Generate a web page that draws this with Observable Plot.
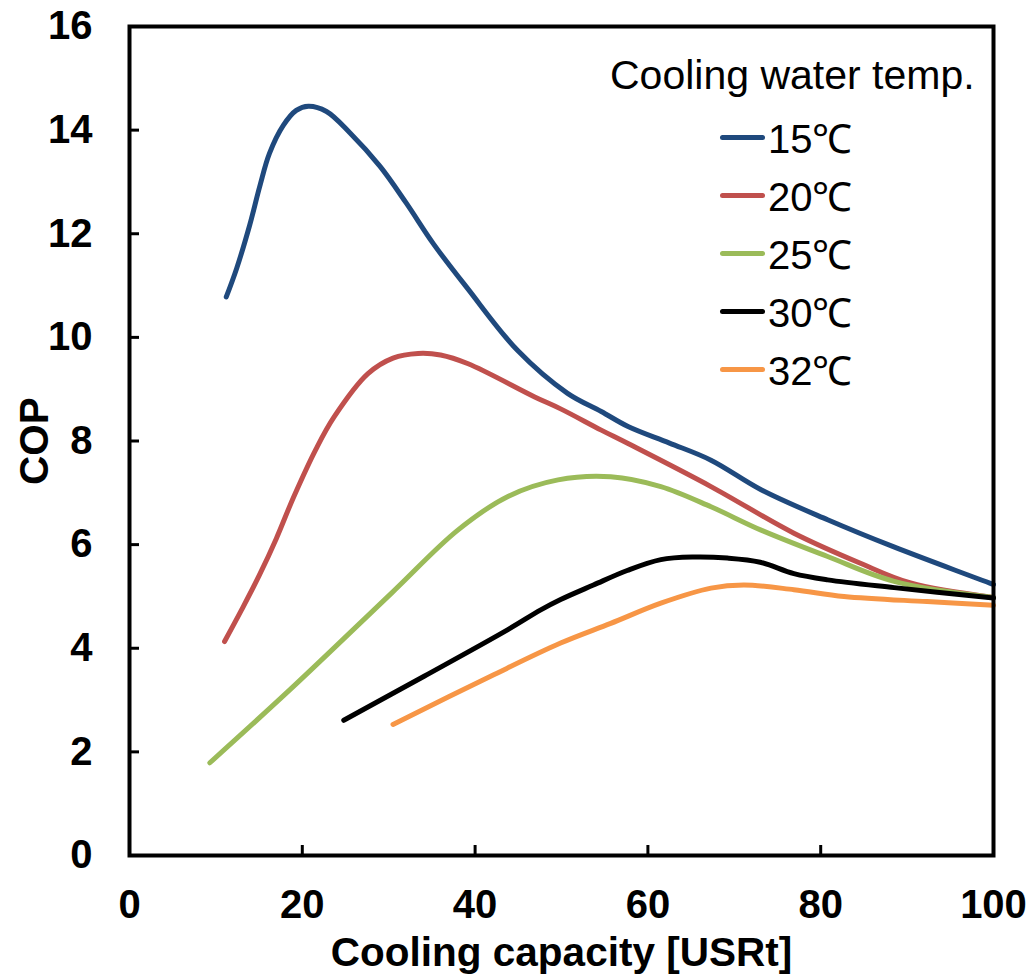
<!DOCTYPE html>
<html>
<head>
<meta charset="utf-8">
<script src="https://cdn.jsdelivr.net/npm/d3@7"></script>
<script src="https://cdn.jsdelivr.net/npm/@observablehq/plot@0.6"></script>
<style>
  html, body { margin: 0; padding: 0; background: #fff; }
  #wrap { position: relative; width: 1029px; height: 977px; }
  #legend { position: absolute; left: 0; top: 0; font-family: "Liberation Sans", Arial, sans-serif; color: #000; }
  #legend .title { position: absolute; left: 610px; top: 52px; font-size: 41px; white-space: nowrap; line-height: 46px; }
  #legend .item { position: absolute; left: 720px; height: 46px; display: flex; align-items: center; white-space: nowrap; font-size: 40px; }
  #legend .swatch { width: 45px; height: 5px; border-radius: 2.5px; margin-right: 3px; }
</style>
</head>
<body>
<div id="wrap"><div id="legend"></div></div>
<script>
// Series names and colours
const seriesNames = ["15℃", "20℃", "25℃", "30℃", "32℃"];
const seriesColors = ["#1F497D", "#C0504D", "#9BBB59", "#000000", "#F79646"];

// 15℃
const x15 = [11.2, 12.4, 13.9, 15.1, 16.2, 17.8, 19.3, 20.7, 22.8, 25.5, 29.0, 32.0, 35.2, 39.1, 44.9, 50.7, 54.6, 57.7, 62.5, 67.3, 73.1, 80.8, 88.4, 100];
const y15 = [10.78, 11.33, 12.16, 12.93, 13.55, 14.09, 14.38, 14.46, 14.36, 13.95, 13.30, 12.60, 11.80, 10.95, 9.75, 8.92, 8.57, 8.28, 7.96, 7.63, 7.06, 6.48, 5.96, 5.23];
// 20℃
const x20 = [11.0, 13.0, 15.0, 17.0, 19.0, 21.6, 23.7, 27.6, 30.5, 33.4, 36.0, 39.2, 46.9, 49.9, 54.6, 57.7, 67.3, 76.9, 84.6, 90.4, 100];
const y20 = [4.13, 4.75, 5.40, 6.12, 6.92, 7.85, 8.47, 9.30, 9.60, 9.69, 9.66, 9.49, 8.85, 8.62, 8.21, 7.95, 7.12, 6.22, 5.64, 5.26, 4.98];
// 25℃
const x25 = [9.3, 18.7, 30.3, 38.0, 43.8, 49.6, 55.7, 61.5, 67.3, 73.1, 80.8, 88.5, 100];
const y25 = [1.79, 3.22, 5.06, 6.28, 6.93, 7.25, 7.31, 7.12, 6.73, 6.28, 5.77, 5.29, 4.98];
// 30℃
const x30 = [24.8, 34.1, 43.8, 47.6, 49.9, 53.7, 57.6, 61.5, 65.3, 69.2, 73.0, 76.9, 80.8, 88.5, 100];
const y30 = [2.61, 3.46, 4.36, 4.74, 4.94, 5.22, 5.50, 5.71, 5.76, 5.74, 5.66, 5.44, 5.32, 5.17, 4.97];
// 32℃
const x32 = [30.5, 41.8, 49.9, 55.7, 61.5, 67.3, 71.1, 76.9, 82.7, 92.3, 100];
const y32 = [2.53, 3.46, 4.10, 4.48, 4.87, 5.16, 5.22, 5.13, 5.00, 4.90, 4.83];

// Axis ticks
const xTicks = [0, 20, 40, 60, 80, 100];
const yTicks = [0, 2, 4, 6, 8, 10, 12, 14, 16];

const xs = [x15, x20, x25, x30, x32];
const ys = [y15, y20, y25, y30, y32];
const table = [];
xs.forEach((xa, s) => xa.forEach((xv, i) => table.push({series: seriesNames[s], x: xv, y: ys[s][i]})));

const font = "'Liberation Sans', Arial, sans-serif";
const W = 1029, H = 977, mL = 129, mR = 36, mT = 26, mB = 122;
const xDomain = [0, 100], yDomain = [0, 16];
const tickLen = 10; // px, inward
// tick length expressed in data units of each scale
const xTickLen = (xDomain[1] - xDomain[0]) * tickLen / (W - mL - mR);
const yTickLen = (yDomain[1] - yDomain[0]) * tickLen / (H - mT - mB);

const chart = Plot.plot({
  width: W,
  height: H,
  marginLeft: mL,
  marginRight: mR,
  marginTop: mT,
  marginBottom: mB,
  style: { fontFamily: font, background: "#fff" },
  x: { domain: xDomain },
  y: { domain: yDomain },
  color: { domain: seriesNames, range: seriesColors },
  marks: [
    Plot.line(table, { x: "x", y: "y", z: "series", stroke: "series", strokeWidth: 5, curve: "catmull-rom", strokeLinecap: "round", strokeLinejoin: "round" }),
    // inward tick marks
    Plot.ruleX(xTicks, { x: d => d, y1: yDomain[0], y2: yDomain[0] + yTickLen, stroke: "#000", strokeWidth: 3 }),
    Plot.ruleY(yTicks, { y: d => d, x1: xDomain[0], x2: xDomain[0] + xTickLen, stroke: "#000", strokeWidth: 3 }),
    Plot.axisX({ ticks: xTicks, tickSize: 0, tickPadding: 34, fontSize: 40, fontWeight: "bold", fill: "#000",
      label: "Cooling capacity [USRt]", labelAnchor: "center", labelArrow: "none", labelOffset: 110 }),
    Plot.axisY({ ticks: yTicks, tickSize: 0, tickPadding: 37, fontSize: 40, fontWeight: "bold", fill: "#000",
      label: "COP", labelAnchor: "center", labelArrow: "none", labelOffset: 110 }),
    Plot.frame({ stroke: "#000", strokeWidth: 4 })
  ]
});
d3.select(chart).selectAll("[aria-label='x-axis label'] text, [aria-label='y-axis label'] text")
  .style("font-size", "40.5px").style("font-weight", "bold");

document.getElementById("wrap").prepend(chart);

// Legend
const legend = document.getElementById("legend");
const t = document.createElement("div");
t.className = "title";
t.textContent = "Cooling water temp.";
legend.appendChild(t);
seriesNames.forEach((name, i) => {
  const item = document.createElement("div");
  item.className = "item";
  item.style.top = (114 + 58 * i) + "px";
  const sw = document.createElement("span");
  sw.className = "swatch";
  sw.style.background = seriesColors[i];
  const lab = document.createElement("span");
  lab.textContent = name;
  item.appendChild(sw);
  item.appendChild(lab);
  legend.appendChild(item);
});
</script>
</body>
</html>
